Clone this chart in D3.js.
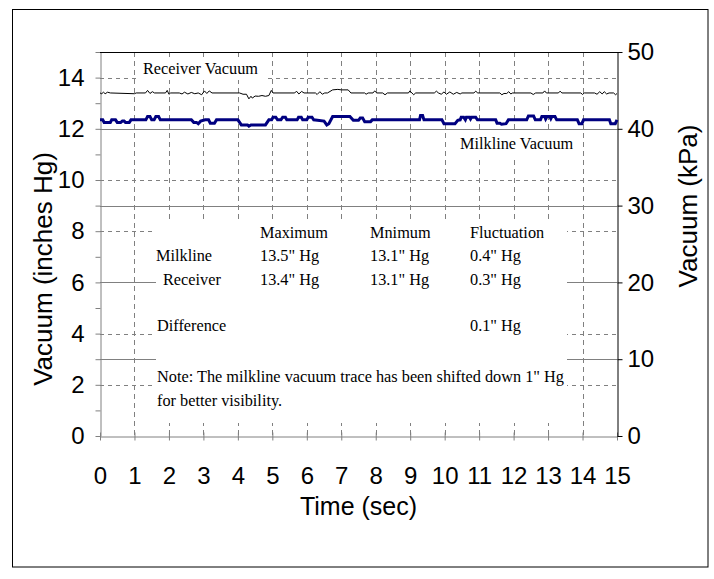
<!DOCTYPE html>
<html>
<head>
<meta charset="utf-8">
<script src="https://cdn.jsdelivr.net/npm/d3@7"></script>
<style>
  body { margin: 0; background: #fff; }
  svg { display: block; }
  .sans { font-family: 'Liberation Sans', Arial, sans-serif; }
  .serif { font-family: 'Liberation Serif', 'Times New Roman', serif; font-size: 16.3px; fill: #000; }
</style>
</head>
<body>
<div id="chart"></div>
<script>
// tick values
var timeTicks = [0, 1, 2, 3, 4, 5, 6, 7, 8, 9, 10, 11, 12, 13, 14, 15];
var inchTicks = [0, 2, 4, 6, 8, 10, 12, 14];
var inchMinor = [0, 1, 2, 3, 4, 5, 6, 7, 8, 9, 10, 11, 12, 13, 14, 15];
var kpaTicks = [0, 10, 20, 30, 40, 50];

// receiver vacuum trace, [sec, inches Hg]
var receiver = [
    [0, 13.4], [0.05, 13.37], [0.1, 13.43], [0.15, 13.37], [0.22, 13.43], [0.3, 13.4],
    [1.0, 13.37], [1.05, 13.4], [1.32, 13.4], [1.38, 13.5], [1.45, 13.38], [1.52, 13.45], [1.58, 13.4],
    [1.9, 13.4], [1.95, 13.5], [2.0, 13.35], [2.05, 13.4], [2.3, 13.4], [2.38, 13.36], [2.45, 13.43],
    [2.55, 13.36], [2.65, 13.42], [2.75, 13.37], [2.85, 13.4], [2.95, 13.33], [3.03, 13.48], [3.1, 13.38],
    [3.17, 13.48], [3.25, 13.4], [4.05, 13.4], [4.15, 13.35], [4.25, 13.35], [4.32, 13.17], [4.38, 13.27],
    [4.42, 13.2], [4.5, 13.28], [4.6, 13.27], [4.7, 13.3], [4.8, 13.27], [4.9, 13.3], [4.97, 13.5],
    [5.02, 13.4], [5.65, 13.4], [5.7, 13.47], [5.77, 13.36], [5.85, 13.46], [5.92, 13.4], [6.25, 13.4],
    [6.3, 13.34], [6.38, 13.45], [6.45, 13.35], [6.52, 13.4], [6.6, 13.4], [6.75, 13.52], [6.9, 13.54],
    [7.0, 13.52], [7.2, 13.52], [7.28, 13.4], [7.68, 13.4], [7.72, 13.35], [7.78, 13.4], [7.92, 13.4],
    [7.97, 13.48], [8.03, 13.4], [8.2, 13.4], [8.27, 13.33], [8.34, 13.4], [8.95, 13.4], [8.99, 13.48],
    [9.05, 13.4], [9.1, 13.33], [9.16, 13.4], [9.7, 13.4], [9.76, 13.47], [9.82, 13.4], [9.9, 13.35],
    [9.98, 13.44], [10.05, 13.35], [10.15, 13.44], [10.25, 13.35], [10.35, 13.42], [10.45, 13.36],
    [10.5, 13.4], [10.85, 13.4], [10.9, 13.47], [10.96, 13.4], [11.6, 13.4], [11.66, 13.33], [11.72, 13.38],
    [11.8, 13.38], [11.86, 13.45], [11.92, 13.36], [11.97, 13.4], [12.5, 13.4], [12.57, 13.34], [12.64, 13.4],
    [12.85, 13.4], [12.9, 13.48], [12.95, 13.4], [13.3, 13.4], [13.35, 13.47], [13.4, 13.4], [13.95, 13.4],
    [14.0, 13.34], [14.05, 13.4], [14.35, 13.4], [14.42, 13.35], [14.5, 13.45], [14.57, 13.36], [14.63, 13.45],
    [14.7, 13.36], [14.77, 13.4], [14.9, 13.4], [14.96, 13.33], [15, 13.38]
];

// milkline vacuum trace (already shifted down 1" Hg), [sec, inches Hg]
var milkline = [
    [0, 12.35], [0.08, 12.35], [0.12, 12.25], [0.3, 12.25], [0.34, 12.35], [0.45, 12.35], [0.5, 12.25],
    [0.6, 12.25], [0.65, 12.3], [0.7, 12.3], [0.74, 12.25], [0.85, 12.25], [0.9, 12.35], [1.33, 12.35],
    [1.38, 12.48], [1.45, 12.48], [1.5, 12.35], [1.57, 12.35], [1.62, 12.48], [1.7, 12.48], [1.75, 12.35],
    [2.65, 12.35], [2.72, 12.25], [2.8, 12.25], [2.85, 12.2], [2.92, 12.3], [3.05, 12.35], [3.15, 12.35],
    [3.2, 12.22], [3.32, 12.22], [3.38, 12.35], [4.0, 12.35], [4.1, 12.15], [4.28, 12.15], [4.32, 12.1],
    [4.38, 12.15], [4.8, 12.15], [4.9, 12.35], [4.98, 12.35], [5.02, 12.45], [5.1, 12.45], [5.15, 12.35],
    [5.25, 12.35], [5.3, 12.45], [5.38, 12.45], [5.42, 12.35], [5.72, 12.35], [5.76, 12.45], [5.84, 12.45],
    [5.88, 12.35], [6.0, 12.35], [6.04, 12.45], [6.15, 12.45], [6.2, 12.35], [6.5, 12.3], [6.58, 12.15],
    [6.64, 12.2], [6.75, 12.48], [7.25, 12.48], [7.35, 12.33], [7.5, 12.33], [7.55, 12.42], [7.62, 12.42],
    [7.68, 12.28], [7.85, 12.28], [7.9, 12.35], [9.27, 12.35], [9.3, 12.52], [9.36, 12.52], [9.4, 12.35],
    [9.92, 12.35], [9.98, 12.2], [10.3, 12.2], [10.38, 12.33], [10.45, 12.35], [10.48, 12.45], [10.55, 12.45],
    [10.6, 12.35], [10.63, 12.45], [10.72, 12.45], [10.75, 12.38], [10.78, 12.45], [10.9, 12.45], [10.95, 12.35],
    [11.48, 12.35], [11.52, 12.22], [11.6, 12.22], [11.65, 12.18], [11.78, 12.2], [11.85, 12.35], [12.38, 12.35],
    [12.43, 12.5], [12.58, 12.5], [12.63, 12.35], [12.78, 12.35], [12.82, 12.48], [12.9, 12.48], [12.93, 12.38],
    [12.97, 12.48], [13.05, 12.48], [13.08, 12.4], [13.11, 12.48], [13.2, 12.48], [13.25, 12.35], [13.85, 12.35],
    [13.9, 12.2], [13.98, 12.2], [14.03, 12.35], [14.78, 12.35], [14.82, 12.2], [14.95, 12.2], [15, 12.35]
];

// summary table text
var tableHead = ['Maximum', 'Mnimum', 'Fluctuation'];
var tableRows = [
    ['Milkline', '13.5" Hg', '13.1" Hg', '0.4" Hg'],
    ['Receiver', '13.4" Hg', '13.1" Hg', '0.3" Hg'],
    ['Difference', '', '', '0.1" Hg']
];
var noteLines = [
    'Note: The milkline vacuum trace has been shifted down 1" Hg',
    'for better visibility.'
];

function vacuumChart(d3, id) {
    var width = 714,
        height = 579,
        left = 100, right = 617, top = 52, bottom = 436,
        gridGrey = '#808080',
        navy = '#000080';

    var svg = d3.select('#' + id)
        .append('svg')
        .attr('width', width)
        .attr('height', height);

    // outer frame
    svg.append('rect')
        .attr('x', 12.5).attr('y', 9.5)
        .attr('width', 695.5).attr('height', 557.5)
        .attr('fill', '#fff').attr('stroke', '#000');

    var x = d3.scaleLinear().domain([0, 15]).range([left, right]);
    var yIn = d3.scaleLinear().domain([0, 15]).range([bottom, top]);
    var yKpa = d3.scaleLinear().domain([0, 50]).range([bottom, top]);

    // dashed grid (seconds / inches)
    svg.append('g').selectAll('line')
        .data(timeTicks.slice(1, -1))
        .join('line')
        .attr('x1', d => Math.round(x(d)) + 0.5).attr('x2', d => Math.round(x(d)) + 0.5)
        .attr('y1', top).attr('y2', bottom)
        .attr('stroke', gridGrey).attr('stroke-dasharray', '5,4');
    svg.append('g').selectAll('line')
        .data(inchTicks.slice(1))
        .join('line')
        .attr('x1', left).attr('x2', right)
        .attr('y1', d => Math.round(yIn(d)) + 0.5).attr('y2', d => Math.round(yIn(d)) + 0.5)
        .attr('stroke', gridGrey).attr('stroke-dasharray', '4,4');

    // solid grid (kPa)
    svg.append('g').selectAll('line')
        .data(kpaTicks.slice(1, -1))
        .join('line')
        .attr('x1', left).attr('x2', right)
        .attr('y1', d => Math.round(yKpa(d)) + 0.5).attr('y2', d => Math.round(yKpa(d)) + 0.5)
        .attr('stroke', gridGrey);

    // white boxes behind the notes
    svg.append('rect').attr('x', 140).attr('y', 58).attr('width', 124).attr('height', 22).attr('fill', '#fff');
    svg.append('rect').attr('x', 455).attr('y', 132).attr('width', 120).attr('height', 24).attr('fill', '#fff');
    svg.append('rect').attr('x', 156).attr('y', 220).attr('width', 411).attr('height', 203).attr('fill', '#fff');

    // axes
    var leftAxis = svg.append('g')
        .attr('class', 'sans')
        .attr('transform', 'translate(' + (left + 0.5) + ',0)')
        .call(d3.axisLeft(yIn).tickValues(inchMinor).tickSize(5).tickSizeOuter(0).tickPadding(11)
            .tickFormat(d => inchTicks.indexOf(d) >= 0 ? d : ''));
    leftAxis.selectAll('path, line').attr('stroke', gridGrey);

    var bottomAxis = svg.append('g')
        .attr('class', 'sans')
        .attr('transform', 'translate(0,' + (bottom + 0.5) + ')')
        .call(d3.axisBottom(x).tickValues(timeTicks).tickSize(4).tickSizeOuter(0).tickPadding(26));
    bottomAxis.selectAll('line').attr('y1', -4).attr('y2', 4).attr('stroke', gridGrey);
    bottomAxis.select('path').attr('stroke', gridGrey);

    var rightAxis = svg.append('g')
        .attr('class', 'sans')
        .attr('transform', 'translate(' + (right + 0.5) + ',0)')
        .call(d3.axisRight(yKpa).tickValues(kpaTicks).tickSize(5).tickSizeOuter(0).tickPadding(5));
    rightAxis.selectAll('path, line').attr('stroke', '#000');

    svg.selectAll('.tick text')
        .attr('font-size', 24)
        .attr('fill', '#000');

    // top border of the plot
    svg.append('line')
        .attr('x1', left).attr('x2', right + 1)
        .attr('y1', top + 0.5).attr('y2', top + 0.5)
        .attr('stroke', '#000');

    // traces
    var line = d3.line().x(d => x(d[0])).y(d => yIn(d[1]));
    svg.append('path').datum(milkline)
        .attr('d', line)
        .attr('fill', 'none').attr('stroke', navy).attr('stroke-width', 3);
    svg.append('path').datum(receiver)
        .attr('d', line)
        .attr('fill', 'none').attr('stroke', '#000').attr('stroke-width', 1);

    // axis titles
    svg.append('text')
        .attr('class', 'sans')
        .attr('transform', 'translate(52,269) rotate(-90)')
        .attr('text-anchor', 'middle').attr('font-size', 26)
        .text('Vacuum (inches Hg)');
    svg.append('text')
        .attr('class', 'sans')
        .attr('transform', 'translate(697,206) rotate(-90)')
        .attr('text-anchor', 'middle').attr('font-size', 26)
        .text('Vacuum (kPa)');
    svg.append('text')
        .attr('class', 'sans')
        .attr('x', (left + right) / 2).attr('y', 515)
        .attr('text-anchor', 'middle').attr('font-size', 25)
        .text('Time (sec)');

    // trace labels
    svg.append('text').attr('class', 'serif').attr('x', 143).attr('y', 74).text('Receiver Vacuum');
    svg.append('text').attr('class', 'serif').attr('x', 460).attr('y', 149).text('Milkline Vacuum');

    // summary table
    var colX = [260, 370, 470],
        rowLabelX = [156, 163, 157],
        rowY = [261, 285, 331];
    svg.append('g').selectAll('text')
        .data(tableHead)
        .join('text')
        .attr('class', 'serif')
        .attr('x', (d, i) => colX[i]).attr('y', 238)
        .text(d => d);
    tableRows.forEach(function (row, r) {
        svg.append('g').selectAll('text')
            .data(row)
            .join('text')
            .attr('class', 'serif')
            .attr('x', (d, i) => i === 0 ? rowLabelX[r] : colX[i - 1])
            .attr('y', rowY[r])
            .text(d => d);
    });
    svg.append('g').selectAll('text')
        .data(noteLines)
        .join('text')
        .attr('class', 'serif')
        .attr('x', 157).attr('y', (d, i) => 382 + i * 24)
        .text(d => d);
}

vacuumChart(d3, 'chart');
</script>
</body>
</html>
